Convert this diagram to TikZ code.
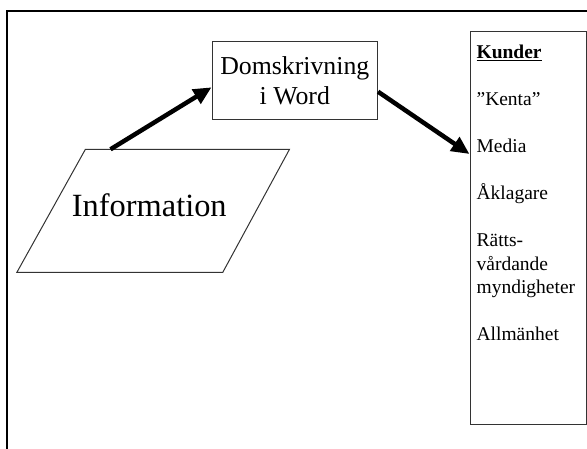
\documentclass[tikz,border=0pt]{standalone}
\usepackage{fontspec}
\setmainfont{Liberation Serif}
\usetikzlibrary{arrows.meta, positioning}

\tikzset{
	ruta/.style={draw=black!80, line width=1pt, fill=white},
	pil/.style={line width=4.5pt, -{Triangle[length=18pt,width=16pt]}},
}

\begin{document}
\begin{tikzpicture}[x=1pt, y=-1pt]
		\useasboundingbox (0,0) rectangle (587,448);
		\draw[line width=2pt] (6.7,11) rectangle (620,480); % ram
		
		% informationen
		\draw[ruta] (85.4,149.3) -- (289.5,149.3) -- (222.8,272.3) -- (16.9,272.3) -- cycle;
		\node[anchor=base, inner sep=0pt, font=\fontsize{32.4}{38}\selectfont] (info) at (149.3,216.5) {Information};
		\coordinate (infotopp) at (110.5,149.3);
		
		\node[ruta, minimum width=165.5pt, minimum height=78.3pt, inner sep=0pt, align=center, font=\fontsize{25.8}{29.5}\selectfont] (dom) at (294.8,80.8) {Domskrivning\\i Word};
		
		% kunderna
		\node[ruta, minimum width=116pt, minimum height=392.3pt, inner sep=0pt] (kunder) at (528,227.85) {};
		\foreach \txt/\yy [count=\i] in {{\textbf{\underline{Kunder}}}/58.5, ”Kenta”/105.3, Media/152, Åklagare/199, Rätts-/246, vårdande/270, myndigheter/293.5, Allmänhet/340.5} {
			\node[anchor=base west, inner sep=0pt, font=\fontsize{19.5}{23.4}\selectfont] (rad\i) at (476.4,\yy) {\txt};
		}
		
		\draw[pil] (infotopp) -- ([yshift=-6.5pt]dom.west);
		\draw[pil] ([yshift=-10.9pt]dom.east) -- ([yshift=73.85pt]kunder.west);
	\end{tikzpicture}
\end{document}
